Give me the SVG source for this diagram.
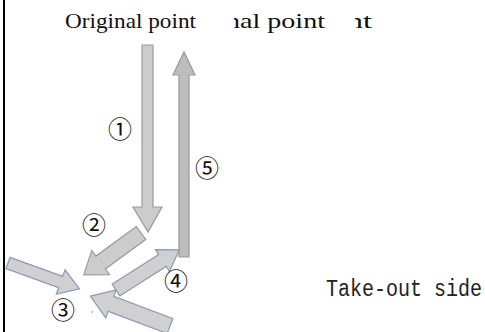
<svg xmlns="http://www.w3.org/2000/svg" width="485" height="332" viewBox="0 0 485 332">
  <style>
    .title { font-family: "Liberation Serif", "DejaVu Serif", serif; font-size: 22px; fill: #111; }
    .num { font-family: "Noto Sans CJK JP", "DejaVu Sans", sans-serif; font-size: 24px; fill: #111; }
    .side { font-family: "Liberation Mono", "DejaVu Sans Mono", monospace; font-size: 20px; fill: #222; }
    .arr-gray { fill: #cccccc; stroke: #9a9a9a; stroke-width: 1.2; }
    .arr-dark { fill: #bdbdbd; stroke: #999999; stroke-width: 1.2; }
    .arr-blue { fill: #d0d0d0; stroke: #8a9bb3; stroke-width: 1.2; }
  </style>
  <defs>
    <clipPath id="clip-second"><rect x="234" y="0" width="100" height="40"/></clipPath>
    <clipPath id="clip-third"><rect x="355" y="0" width="40" height="40"/></clipPath>
  </defs>

  <rect width="485" height="332" fill="#ffffff"/>
  <!-- frame edge on the left -->
  <line x1="4" y1="0" x2="4" y2="332" stroke="#000" stroke-width="2"/>

  <!-- heading labels: the full one and two partly hidden repeats -->
  <g id="origin-label">
    <text class="title" x="65" y="28" textLength="131" lengthAdjust="spacingAndGlyphs">Original point</text>
    <text class="title" x="226" y="28" textLength="99" lengthAdjust="spacingAndGlyphs" clip-path="url(#clip-second)">nal point</text>
    <text class="title" x="347" y="28" textLength="25" lengthAdjust="spacingAndGlyphs" clip-path="url(#clip-third)">nt</text>
  </g>

  <g id="takeout-label">
    <text class="side" transform="translate(326,296) scale(1,1.15)" x="0" y="0">Take-out side</text>
  </g>

  <!-- step arrows -->
  <g id="connectors">
    <!-- 1: down from the original point -->
    <polygon class="arr-gray" points="142,45 153,45 153,207 162,207 148,232 133,207 142,207"/>
    <!-- 5: back up to the original point -->
    <polygon class="arr-dark" points="179,257 189,257 189,75 195,75 184,52 173,75 179,75"/>
    <!-- 2: diagonal down-left -->
    <polygon class="arr-gray" transform="translate(141,233) rotate(143.8)" points="0,-8 50,-8 50,-15 71,0 50,15 50,8 0,8"/>
    <!-- 3: incoming from the left -->
    <polygon class="arr-blue" transform="translate(8,263) rotate(19.9)" points="0,-6 56,-6 56,-13 76,0 56,13 56,6 0,6"/>
    <!-- 3: incoming from the lower right -->
    <polygon class="arr-blue" transform="translate(170,326) rotate(200.6)" points="0,-8 63,-8 63,-15 85,0 63,15 63,8 0,8"/>
    <!-- 4: diagonal up-right -->
    <polygon class="arr-blue" transform="translate(116,290) rotate(-32.4)" points="0,-7 55,-7 55,-13 75,0 55,13 55,7 0,7"/>
  </g>

  <!-- step numbers -->
  <g id="step-1"><text class="num" x="120" y="138" text-anchor="middle">①</text></g>
  <g id="step-2"><text class="num" x="94" y="234" text-anchor="middle">②</text></g>
  <g id="step-3"><text class="num" x="63" y="319" text-anchor="middle">③</text><circle cx="92" cy="312" r="0.8" fill="#888"/></g>
  <g id="step-4"><text class="num" x="176" y="290" text-anchor="middle">④</text></g>
  <g id="step-5"><text class="num" x="207" y="177" text-anchor="middle">⑤</text></g>
</svg>
